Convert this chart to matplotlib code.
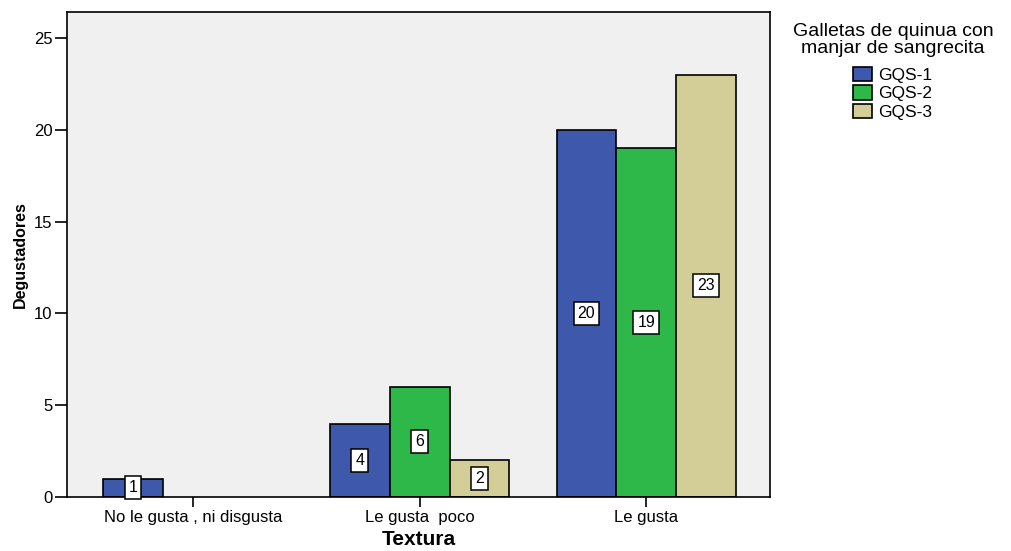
import matplotlib.pyplot as plt
import numpy as np

plt.rcParams['font.family'] = ['Liberation Sans', 'DejaVu Sans']

categorias = ["No le gusta , ni disgusta", "Le gusta  poco", "Le gusta"]
series = ["GQS-1", "GQS-2", "GQS-3"]
gqs1 = [1, 4, 20]
gqs2 = [0, 6, 19]
gqs3 = [0, 2, 23]
colores = ["#3e58ac", "#2eb84a", "#d3ce97"]

fig = plt.figure(figsize=(10.12, 5.51), dpi=100)
ax = fig.add_axes([0.0662, 0.098, 0.695, 0.880])
ax.set_facecolor("#f0f0f0")

x = np.arange(len(categorias))
ancho = 0.264
for i, (nombre, valores, color) in enumerate(zip(series, [gqs1, gqs2, gqs3], colores)):
    pos = x + (i - 1) * ancho
    for xp, v in zip(pos, valores):
        if v == 0:
            continue
        ax.bar(xp, v, width=ancho, color=color, edgecolor="black", linewidth=1.2,
               label=nombre if xp == pos[-1] else None, zorder=2)
        ax.text(xp, v / 2, str(v), ha="center", va="center", fontsize=11.5,
                bbox=dict(boxstyle="square,pad=0.25", facecolor="white",
                          edgecolor="black", linewidth=1.1), zorder=3)

ax.set_xlim(-0.555, 2.547)
ax.set_ylim(0, 26.4)
ax.set_yticks([0, 5, 10, 15, 20, 25])
ax.set_xticks(x)
ax.set_xticklabels(categorias)
ax.tick_params(axis="both", direction="out", width=1.2, labelsize=12, pad=2)
ax.tick_params(axis="y", length=8.5)
ax.tick_params(axis="x", length=7)
for s in ax.spines.values():
    s.set_linewidth(1.2)

ax.set_ylabel("Degustadores", fontsize=11.5, fontweight="bold", labelpad=4)
ax.set_xlabel("Textura", fontsize=15, fontweight="bold", labelpad=4)

# título de la leyenda como texto aparte, centrado sobre las entradas
fig.text(0.8824, 1 - 40 / 551, "Galletas de quinua con\nmanjar de sangrecita",
         ha="center", va="center", fontsize=14, linespacing=1.02,
         multialignment="center")
leg = fig.legend(loc="upper center", bbox_to_anchor=(0.8824, 1 - 67 / 551), frameon=False,
                 fontsize=12.5, handlelength=1.05, handleheight=0.9,
                 labelspacing=0.12, handletextpad=0.4, borderaxespad=0.0,
                 borderpad=0.0)
for h in leg.legend_handles:
    h.set_linewidth(1.2)

fig.savefig("out.png", dpi=100)
